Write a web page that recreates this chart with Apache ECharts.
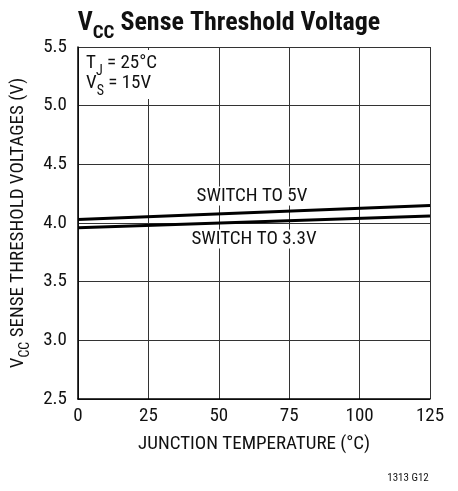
<!DOCTYPE html>
<html><head><meta charset="utf-8">
<script src="https://cdn.jsdelivr.net/npm/echarts@6/dist/echarts.min.js"></script>
<style>html,body{margin:0;padding:0;background:#fff}#c{width:458px;height:491px}</style>
</head><body><div id="c"></div>
<script>
const temps = [0, 125];
const switchTo5V = [4.03, 4.15];
const switchTo33V = [3.96, 4.06];
const xTicks = [0, 25, 50, 75, 100, 125];
const yTicks = [2.5, 3.0, 3.5, 4.0, 4.5, 5.0, 5.5];

const FONT = '"Roboto Condensed", "Liberation Sans Narrow", "Liberation Sans", Arial, sans-serif';
const chart = echarts.init(document.getElementById('c'), null, {renderer: 'canvas'});
const lineStyle = {color: '#000', width: 3};
chart.setOption({
  animation: false,
  backgroundColor: '#fff',
  textStyle: {fontFamily: FONT},
  title: {
    text: '{a|V}{b|CC}{a| Sense Threshold Voltage}',
    left: 'center', top: 1,
    textStyle: {
      rich: {
        a: {fontFamily: FONT, fontSize: 26, fontWeight: 'bold', color: '#111', verticalAlign: 'bottom', lineHeight: 30},
        b: {fontFamily: FONT, fontSize: 19, fontWeight: 'bold', color: '#111', verticalAlign: 'bottom', lineHeight: 22, padding: [0, 0, -7, 0]}
      }
    }
  },
  grid: {left: 78, right: 28, top: 47, bottom: 92},
  xAxis: {
    type: 'value', min: 0, max: 125, interval: 25,
    name: 'JUNCTION TEMPERATURE (°C)', nameLocation: 'middle', nameGap: 36,
    nameTextStyle: {fontFamily: FONT, fontSize: 19, color: '#111'},
    axisLine: {show: true, lineStyle: {color: '#000', width: 1.5}},
    axisTick: {show: false},
    axisLabel: {fontFamily: FONT, fontSize: 19, color: '#111', margin: 8,
      formatter: v => xTicks.includes(v) ? String(v) : ''},
    splitLine: {show: true, lineStyle: {color: '#333', width: 1}}
  },
  yAxis: {
    type: 'value', min: 2.5, max: 5.5, interval: 0.5,
    name: '{a|V}{b|CC}{a| SENSE THRESHOLD VOLTAGES (V)}', nameLocation: 'middle', nameGap: 48, nameRotate: 90,
    nameTextStyle: {
      rich: {
        a: {fontFamily: FONT, fontSize: 19, color: '#111', verticalAlign: 'bottom', lineHeight: 22},
        b: {fontFamily: FONT, fontSize: 14, color: '#111', verticalAlign: 'bottom', lineHeight: 16, padding: [0, 0, -5, 0]}
      }
    },
    axisLine: {show: true, lineStyle: {color: '#000', width: 1.5}},
    axisTick: {show: false},
    axisLabel: {fontFamily: FONT, fontSize: 19, color: '#111', margin: 11,
      formatter: v => yTicks.some(t => Math.abs(t - v) < 1e-6) ? v.toFixed(1) : ''},
    splitLine: {show: true, lineStyle: {color: '#333', width: 1}}
  },
  series: [
    {type: 'line', data: temps.map((t, i) => [t, switchTo5V[i]]), symbol: 'none', lineStyle},
    {type: 'line', data: temps.map((t, i) => [t, switchTo33V[i]]), symbol: 'none', lineStyle}
  ],
  graphic: [
    {type: 'rect', left: 80, top: 50, shape: {width: 84, height: 49}, style: {fill: '#fff'}, z: 50},
    {type: 'text', left: 86, top: 54, z: 100, style: {
      text: '{a|T}{b|J}{a| = 25°C}\n{a|V}{b|S}{a| = 15V}',
      rich: {
        a: {fontFamily: FONT, fontSize: 19, fill: '#111', lineHeight: 20, verticalAlign: 'bottom'},
        b: {fontFamily: FONT, fontSize: 14, fill: '#111', lineHeight: 16, verticalAlign: 'bottom', padding: [0, 0, -5, 0]}
      }}},
    {type: 'text', x: 252, y: 196, z: 100, style: {text: 'SWITCH TO 5V', fontFamily: FONT, fontSize: 19, fill: '#111', align: 'center', verticalAlign: 'middle', backgroundColor: '#fff', padding: [0, 1]}},
    {type: 'text', x: 254, y: 239, z: 100, style: {text: 'SWITCH TO 3.3V', fontFamily: FONT, fontSize: 19, fill: '#111', align: 'center', verticalAlign: 'middle', backgroundColor: '#fff', padding: [0, 1]}},
    {type: 'text', x: 408, y: 478, style: {text: '1313 G12', fontFamily: FONT, fontSize: 11, fill: '#111', align: 'center', verticalAlign: 'middle'}}
  ]
});
</script></body></html>
